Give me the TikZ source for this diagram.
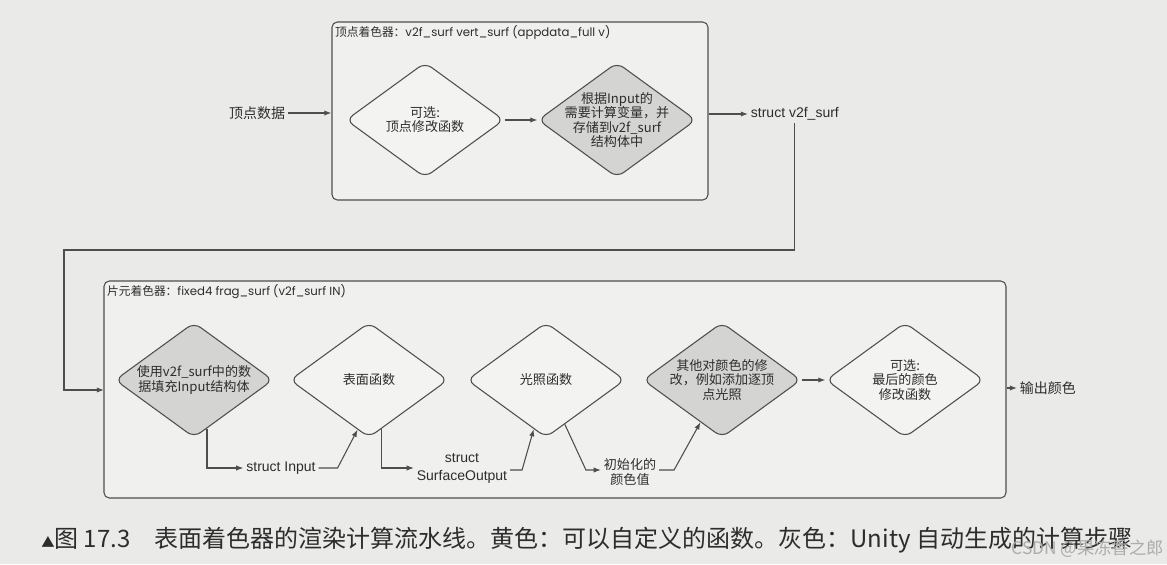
\documentclass[tikz,border=0pt]{standalone}
\usepackage{fontspec}
\setmainfont{Noto Sans CJK SC}
\newfontfamily\geofont{Poppins}
\newfontfamily\arialfont{Liberation Sans}
\usetikzlibrary{arrows.meta,positioning,calc,shapes.geometric}
\definecolor{pagegray}{RGB}{234,234,232}
\definecolor{boxgray}{RGB}{240,240,238}
\definecolor{linegray}{RGB}{78,78,78}
\definecolor{autogray}{RGB}{212,212,210}
\definecolor{usergray}{RGB}{243,243,241}
\definecolor{inkgray}{RGB}{45,45,45}

\begin{document}
\begin{tikzpicture}[
  x=0.75pt, y=-0.75pt,
  shader/.style={rectangle, rounded corners=4pt, draw=linegray,
    line width=0.8pt, fill=boxgray, inner sep=0pt},
  title/.style={anchor=north west, inner sep=2.5pt, text=inkgray,
    font=\fontsize{8.8}{10}\selectfont},
  flowstep/.style={diamond, rounded corners=6pt, draw=linegray,
    line width=0.8pt, minimum width=118.5pt, minimum height=86.25pt,
    inner sep=0pt},
  autostep/.style={flowstep, fill=autogray},
  userstep/.style={flowstep, fill=usergray},
  steptext/.style={align=center, text=inkgray,
    font=\fontsize{9.8}{10.6}\selectfont},
  datatext/.style={align=center, text=inkgray, inner sep=2pt,
    font=\arialfont\fontsize{10.5}{12}\selectfont},
  arrow/.style={-{Latex[length=1.9mm, width=1.4mm]}, line width=0.8pt,
    draw=linegray},
  link/.style={line width=0.8pt, draw=linegray}
]
\fill[pagegray] (0,0) rectangle (1167,564);
\useasboundingbox (0,0) rectangle (1167,564);

% vertex shader
\node[shader, minimum width=282pt, minimum height=133.5pt] (vshader) at (520,111)
  {};
\node[title] (vtitle) at (vshader.north west)
  {顶点着色器：{\geofont v2f\_surf vert\_surf (appdata\_full v)}};
\node[datatext, font=\fontsize{10.5}{12}\selectfont] (vin) at (257,113) {顶点数据};
\node[userstep, label={[steptext]center:{可选:\\顶点修改函数}}] (va) at (425,120) {};
\node[autostep, label={[steptext]center:{根据Input的\\需要计算变量，并\\存储到v2f\_surf\\结构体中}}]
  (vb) at (617,120) {};
\node[datatext, anchor=west] (v2f) at (748,114) {struct v2f\_surf};

\draw[arrow] (vin.east) -- (vshader.west |- vin.east);
\draw[arrow] (va.east) -- (vb.west);
\draw[arrow] (vshader.east |- v2f.west) -- (v2f.west);

% fragment shader
\node[shader, minimum width=676.5pt, minimum height=162.75pt] (fshader) at (555,389.5)
  {};
\node[title] (ftitle) at (fshader.north west)
  {片元着色器：{\geofont fixed4 frag\_surf (v2f\_surf IN)}};
\node[autostep, label={[steptext]center:{使用v2f\_surf中的数\\据填充Input结构体}}]
  (d1) at (194,380) {};
\node[userstep, label={[steptext]center:{表面函数}}] (d2) at (369,380) {};
\node[userstep, label={[steptext]center:{光照函数}}] (d3) at (546,380) {};
\node[autostep, label={[steptext]center:{其他对颜色的修\\改，例如添加逐顶\\点光照}}]
  (d4) at (722,380) {};
\node[userstep, label={[steptext]center:{可选:\\最后的颜色\\修改函数}}] (d5) at (905,380) {};

\node[datatext] (sin) at (281,468) {struct Input};
\node[datatext, font=\arialfont\fontsize{10.5}{13.5}\selectfont] (sout) at (462,468)
  {struct\\SurfaceOutput};
\node[datatext, font=\fontsize{9.8}{10.6}\selectfont] (cinit) at (630,472)
  {初始化的\\颜色值};
\node[datatext, font=\fontsize{10.5}{12}\selectfont, anchor=west] (out) at (1017,388)
  {输出颜色};

\coordinate (loop) at (64,250);
\coordinate (fin) at (104,390);
\draw[arrow] (v2f.south) |- (loop) |- (fin);

\draw[arrow] (d1.-75) |- (sin.west);
\draw[arrow] (sin.east) -- ++(19,0) -- (d2.-103);
\draw[arrow] (d2.-76) |- (sout.west);
\draw[arrow] ($(sout.east)+(0,2)$) -- ++(12,0) -- (d3.-104);
\draw[arrow] (d3.-67) -- ($(cinit.west)+(-15,-2)$) -- ($(cinit.west)+(0,-2)$);
\draw[arrow] ($(cinit.east)+(0,-2)$) -- ++(15,0) -- (d4.-117);
\draw[arrow] (d4.east) -- (d5.west);
\draw[arrow] (fshader.east |- out.west) -- (out.west);

% caption
\node[anchor=west, inner sep=0pt, text=inkgray, font=\fontsize{18}{20}\selectfont]
  (caption) at (41,540)
  {{\fontsize{10}{12}\selectfont ▲}图 17.3\quad 表面着色器的渲染计算流水线。黄色：可以自定义的函数。灰色：Unity 自动生成的计算步骤};
\node[anchor=east, inner sep=0pt, text=gray!65, font=\fontsize{13}{15}\selectfont]
  (mark) at (1164,549) {CSDN @果冻香之郎};
\end{tikzpicture}
\end{document}
